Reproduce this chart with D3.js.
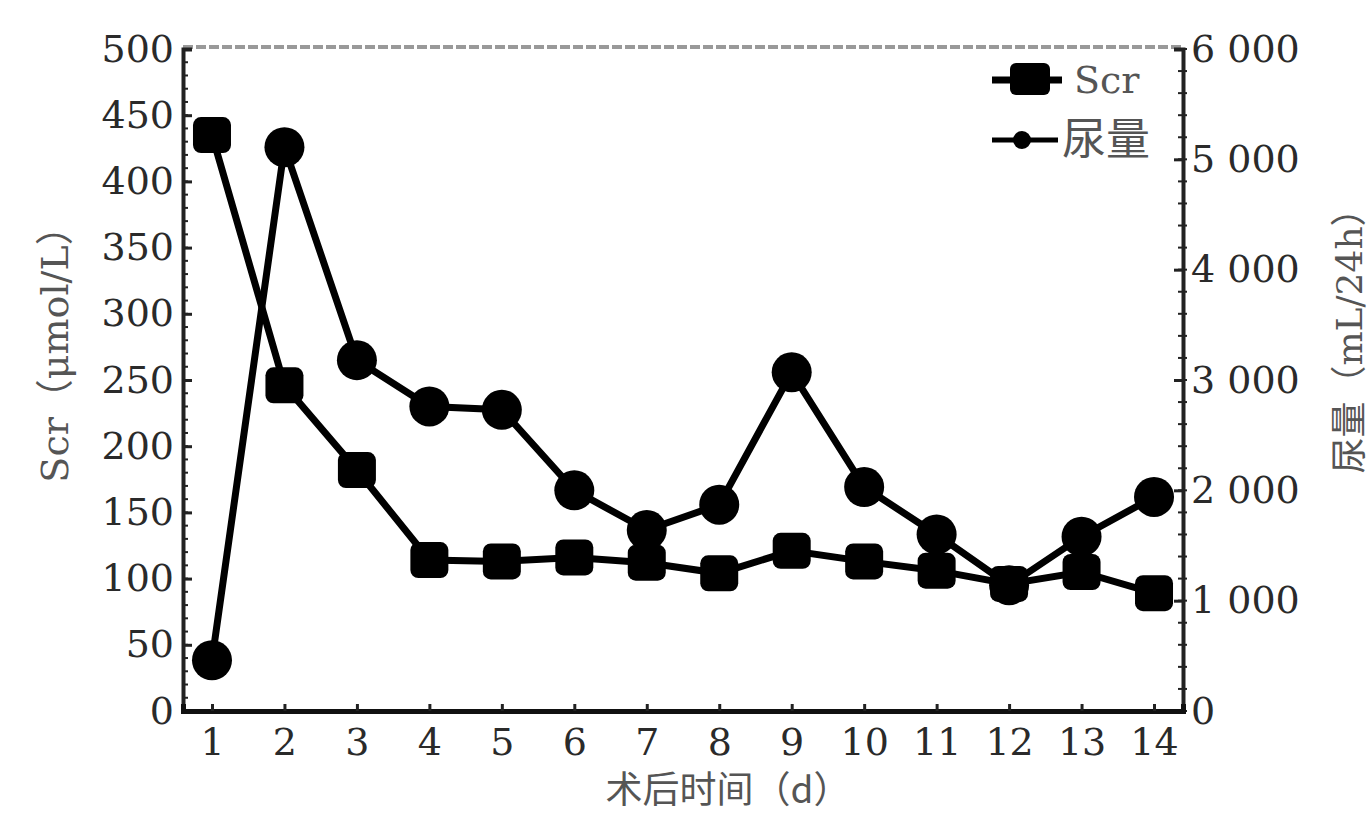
<!doctype html>
<html lang="zh">
<head>
<meta charset="UTF-8">
<title>Ser 与尿量</title>
<script src="https://d3js.org/d3.v7.min.js"></script>
<style>
  body { margin: 0; background: #fff; }
  .num text { font-family: "DejaVu Serif", "Liberation Serif", serif; font-size: 38px; fill: #2a2a2a; }
</style>
</head>
<body>
<div id="chart"></div>
<script>
const W = 1372, H = 814;

// data
const days = [1, 2, 3, 4, 5, 6, 7, 8, 9, 10, 11, 12, 13, 14];
const serValues = [435, 246, 182, 114, 113, 116, 112, 104, 121, 113, 106, 96, 105, 89];
const urineValues = [460, 5110, 3180, 2760, 2730, 2000, 1640, 1870, 3070, 2030, 1600, 1140, 1580, 1940];
const leftTicks = [0, 50, 100, 150, 200, 250, 300, 350, 400, 450, 500];
const rightTicks = [0, 1000, 2000, 3000, 4000, 5000, 6000];

const box = { left: 183, right: 1183, top: 49, bottom: 711 };

const svg = d3.select('#chart').append('svg')
    .attr('width', W)
    .attr('height', H);

const x = d3.scaleLinear().domain([0.6, 14.4]).range([box.left, box.right]);
const yL = d3.scaleLinear().domain([0, 500]).range([box.bottom, box.top]);
const yR = d3.scaleLinear().domain([0, 6000]).range([box.bottom, box.top]);

// top border, dashed grey
svg.append('line')
    .attr('x1', box.left).attr('x2', box.right)
    .attr('y1', box.top - 2).attr('y2', box.top - 2)
    .attr('stroke', '#999').attr('stroke-width', 4)
    .attr('stroke-dasharray', '10 3');

// minor ticks
svg.append('g').selectAll('line')
    .data(d3.range(0, 501, 10))
    .join('line')
    .attr('x1', box.left).attr('x2', box.left + 5)
    .attr('y1', d => yL(d)).attr('y2', d => yL(d))
    .attr('stroke', '#222').attr('stroke-width', 2);

svg.append('g').selectAll('line')
    .data(d3.range(0, 6001, 200))
    .join('line')
    .attr('x1', box.right - 5).attr('x2', box.right + 4)
    .attr('y1', d => yR(d)).attr('y2', d => yR(d))
    .attr('stroke', '#222').attr('stroke-width', 2);

// axes
const fmtR = d => d === 0 ? '0' : d3.format(',')(d).replace(',', ' ');

const gL = svg.append('g').attr('class', 'num')
    .attr('transform', `translate(${box.left},0)`)
    .call(d3.axisLeft(yL).tickValues(leftTicks).tickSize(-9).tickPadding(9));

const gR = svg.append('g').attr('class', 'num')
    .attr('transform', `translate(${box.right},0)`)
    .call(d3.axisRight(yR).tickValues(rightTicks).tickFormat(fmtR).tickSize(-9).tickPadding(8));

const gB = svg.append('g').attr('class', 'num')
    .attr('transform', `translate(0,${box.bottom})`)
    .call(d3.axisBottom(x).tickValues(days).tickSize(-7).tickPadding(17));

[gL, gR].forEach(g => {
    g.select('.domain').attr('stroke', '#222').attr('stroke-width', 4);
    g.selectAll('.tick line').attr('stroke', '#222').attr('stroke-width', 3);
});
gB.select('.domain').attr('stroke', '#111').attr('stroke-width', 5);
gB.selectAll('.tick line').attr('stroke', '#222').attr('stroke-width', 3);

// axis titles
svg.append('text')
    .attr('transform', 'translate(68,345) rotate(-90)')
    .attr('text-anchor', 'middle')
    .style('font-family', '"DejaVu Serif", "Noto Sans CJK SC", serif')
    .style('font-size', '38px')
    .attr('fill', '#555')
    .text('Scr（μmol/L）');

svg.append('text')
    .attr('transform', 'translate(1362,332) rotate(-90)')
    .attr('text-anchor', 'middle')
    .style('font-family', '"DejaVu Serif", "Noto Sans CJK SC", serif')
    .style('font-size', '36px')
    .attr('fill', '#555')
    .text('尿量（mL/24h）');

svg.append('text')
    .attr('x', 728).attr('y', 803)
    .attr('text-anchor', 'middle')
    .style('font-family', '"Noto Sans CJK SC", "DejaVu Serif", serif')
    .style('font-size', '37px')
    .attr('fill', '#555')
    .text('术后时间（d）');

// lines
const lineSer = d3.line().x((d, i) => x(days[i])).y(d => yL(d));
const lineUrine = d3.line().x((d, i) => x(days[i])).y(d => yR(d));

svg.append('path')
    .datum(serValues)
    .attr('d', lineSer)
    .attr('fill', 'none').attr('stroke', '#000').attr('stroke-width', 7);

svg.append('g').selectAll('rect')
    .data(serValues)
    .join('rect')
    .attr('x', (d, i) => x(days[i]) - 19)
    .attr('y', d => yL(d) - 18)
    .attr('width', 38).attr('height', 36)
    .attr('rx', 8)
    .attr('fill', '#000');

svg.append('path')
    .datum(urineValues)
    .attr('d', lineUrine)
    .attr('fill', 'none').attr('stroke', '#000').attr('stroke-width', 7);

svg.append('g').selectAll('circle')
    .data(urineValues)
    .join('circle')
    .attr('cx', (d, i) => x(days[i]))
    .attr('cy', d => yR(d))
    .attr('r', 20)
    .attr('fill', '#000');

// legend
const lg = svg.append('g');
lg.append('line').attr('x1', 992).attr('x2', 1062).attr('y1', 80).attr('y2', 80)
    .attr('stroke', '#000').attr('stroke-width', 7);
lg.append('rect').attr('x', 1010).attr('y', 63).attr('width', 40).attr('height', 32).attr('rx', 6)
    .attr('fill', '#000');
lg.append('text').attr('x', 1074).attr('y', 93)
    .style('font-family', '"DejaVu Serif", serif').style('font-size', '38px')
    .attr('fill', '#555').text('Scr');

lg.append('line').attr('x1', 992).attr('x2', 1058).attr('y1', 140).attr('y2', 140)
    .attr('stroke', '#000').attr('stroke-width', 5);
lg.append('circle').attr('cx', 1022).attr('cy', 140).attr('r', 9).attr('fill', '#000');
lg.append('text').attr('x', 1062).attr('y', 155)
    .style('font-family', '"Noto Sans CJK SC", sans-serif').style('font-size', '44px')
    .attr('fill', '#555').text('尿量');
</script>
</body>
</html>
